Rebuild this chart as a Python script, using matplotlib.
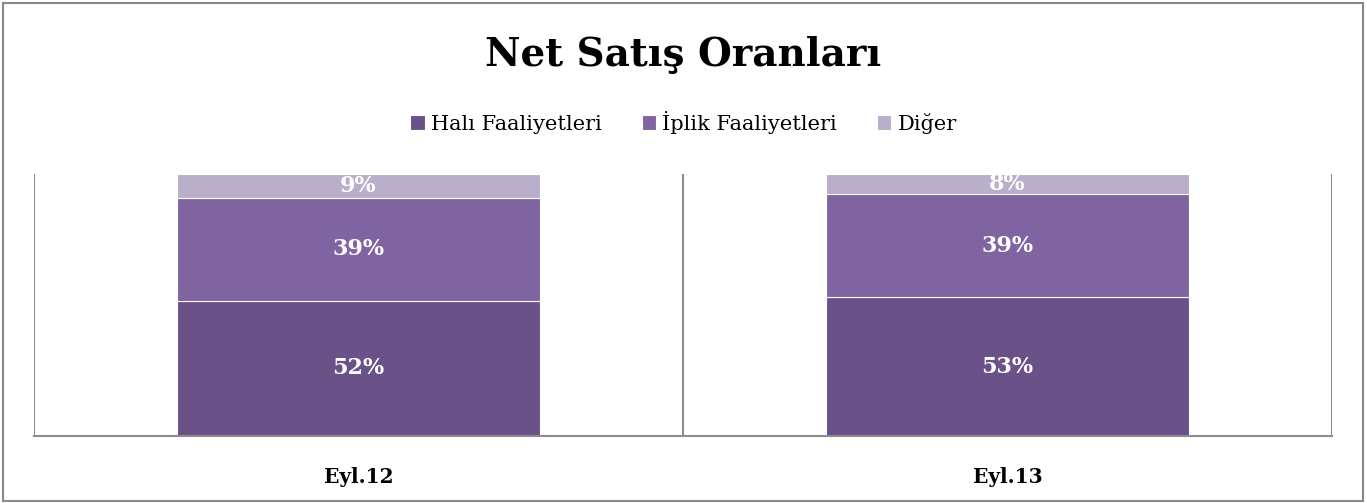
import matplotlib.pyplot as plt
import numpy as np
from matplotlib.patches import Rectangle

plt.rcParams['font.family'] = ['DejaVu Serif']

# veriler (oranlar, %)
donemler = ['Eyl.12', 'Eyl.13']
seriler = ['Halı Faaliyetleri', 'İplik Faaliyetleri', 'Diğer']
hali = [51.7, 52.9]
iplik = [39.1, 39.4]
diger = [9.2, 7.7]
renkler = ['#6A5288', '#8064A2', '#BAAFCA']

fig = plt.figure(figsize=(13.67, 5.03), dpi=100)
ax = fig.add_axes([34 / 1367, 67 / 503, 1298 / 1367, 262 / 503])

x = np.arange(len(donemler))
alt = np.zeros(len(donemler))
for ad, deger, renk in zip(seriler, [hali, iplik, diger], renkler):
    deger = np.array(deger)
    ax.bar(x, deger, 0.56, bottom=alt, color=renk, edgecolor='white',
           linewidth=0.8, label=ad)
    for xi, b, d in zip(x, alt, deger):
        ax.text(xi, b + d / 2, f'{round(d):.0f}%', ha='center', va='center',
                color='white', fontsize=16, fontweight='bold')
    alt += deger

ax.set_xlim(-0.5, 1.5)
ax.set_ylim(0, 100)
ax.set_yticks([])
ax.set_xticks(x)
ax.set_xticklabels(donemler, fontsize=14.5, fontweight='bold')
ax.tick_params(axis='x', length=0, pad=22)
for s in ['top', 'right', 'left']:
    ax.spines[s].set_visible(False)
ax.spines['bottom'].set_color('#8C8C8C')
ax.spines['bottom'].set_linewidth(1.5)
for xv in [-0.5, 0.5, 1.5]:
    ax.axvline(xv, color='#8C8C8C', linewidth=1.5, zorder=0)

fig.text(0.5, 1 - 55 / 503, 'Net Satış Oranları', ha='center', va='center',
         fontsize=28, fontweight='bold')
fig.legend(loc='center', bbox_to_anchor=(0.5, 1 - 122 / 503), ncol=3,
           frameon=False, fontsize=15, handlelength=0.7, handleheight=0.7,
           handletextpad=0.3, columnspacing=1.9)

fig.patches.append(Rectangle((0.002, 0.004), 0.995, 0.99, transform=fig.transFigure,
                             fill=False, edgecolor='#888888', linewidth=1.5))

fig.savefig('out.png', dpi=100)
